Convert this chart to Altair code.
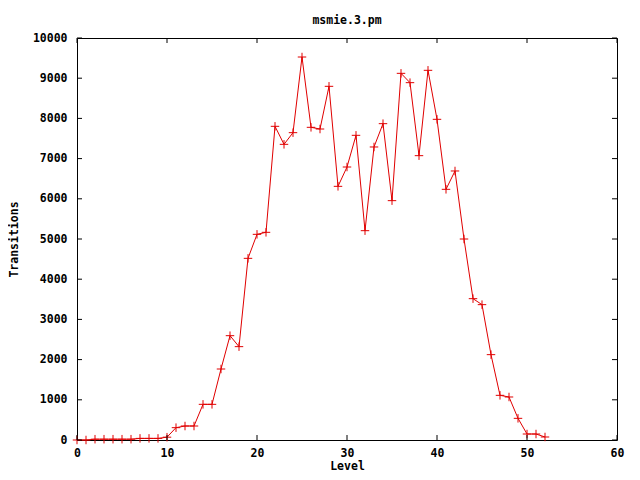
import altair as alt
import pandas as pd

levels = list(range(0, 53))
transitions = [0, 0, 20, 20, 20, 20, 20, 40, 40, 40, 70,
               307, 348, 348, 887, 887, 1766, 2595, 2322, 4519, 5116, 5166,
               7803, 7355, 7645, 9527, 7778, 7736, 8798, 6310, 6791, 7579,
               5207, 7289, 7869, 5954, 9121, 8889, 7073, 9196, 7977, 6236,
               6692, 5000, 3516, 3367, 2123, 1111, 1070, 539, 149, 149, 75]
x_ticks = [0, 10, 20, 30, 40, 50, 60]
y_ticks = [0, 1000, 2000, 3000, 4000, 5000, 6000, 7000, 8000, 9000, 10000]

df = pd.DataFrame({"Level": levels, "Transitions": transitions})
dfy = pd.DataFrame({"Transitions": y_ticks, "Lmin": 0, "Lmax": 60})
dfx = pd.DataFrame({"Level": x_ticks, "Tmin": 0, "Tmax": 10000})

FONT = "DejaVu Sans Mono"
FS = 11.5
RED = "#e00000"
TL = 5

xs = alt.Scale(domain=[0, 60], nice=False, zero=False)
ys = alt.Scale(domain=[0, 10000], nice=False)

xaxis = alt.Axis(values=x_ticks, format="d", ticks=False, domain=False, grid=False,
                 labelFlush=False, labelOverlap=False,
                 labelFont=FONT, labelFontSize=FS, labelFontWeight="bold",
                 labelColor="black", labelPadding=7,
                 title="Level", titleFont=FONT, titleFontSize=FS,
                 titleFontWeight="bold", titleColor="black", titlePadding=2)
yaxis = alt.Axis(values=y_ticks, format="d", ticks=False, domain=False, grid=False,
                 labelFlush=False, labelOverlap=False,
                 labelFont=FONT, labelFontSize=FS, labelFontWeight="bold",
                 labelColor="black", labelPadding=10,
                 title="Transitions", titleFont=FONT, titleFontSize=FS,
                 titleFontWeight="bold", titleColor="black",
                 titleX=-63, titleY=201, titleAngle=-90,
                 titleAlign="center", titleBaseline="middle")

line = alt.Chart(df).mark_line(color=RED, strokeWidth=1).encode(
    x=alt.X("Level:Q", scale=xs, axis=xaxis),
    y=alt.Y("Transitions:Q", scale=ys, axis=yaxis),
)
pts = alt.Chart(df).mark_point(
    shape="M-1,0L1,0M0,-1L0,1", size=72, filled=False, strokeWidth=1,
    color=RED, opacity=1
).encode(
    x=alt.X("Level:Q", scale=xs, axis=xaxis),
    y=alt.Y("Transitions:Q", scale=ys, axis=yaxis),
)

yl = alt.Chart(dfy).mark_rule(color="black", strokeWidth=1, x2Offset=TL).encode(
    x=alt.X("Lmin:Q", scale=xs, axis=xaxis), x2="Lmin:Q",
    y=alt.Y("Transitions:Q", scale=ys, axis=yaxis),
)
yr = alt.Chart(dfy).mark_rule(color="black", strokeWidth=1, x2Offset=-TL).encode(
    x=alt.X("Lmax:Q", scale=xs, axis=xaxis), x2="Lmax:Q",
    y=alt.Y("Transitions:Q", scale=ys, axis=yaxis),
)
xb = alt.Chart(dfx).mark_rule(color="black", strokeWidth=1, y2Offset=-TL).encode(
    y=alt.Y("Tmin:Q", scale=ys, axis=yaxis), y2="Tmin:Q",
    x=alt.X("Level:Q", scale=xs, axis=xaxis),
)
xt = alt.Chart(dfx).mark_rule(color="black", strokeWidth=1, y2Offset=TL).encode(
    y=alt.Y("Tmax:Q", scale=ys, axis=yaxis), y2="Tmax:Q",
    x=alt.X("Level:Q", scale=xs, axis=xaxis),
)

chart = alt.layer(line, pts, yl, yr, xb, xt).properties(
    width=540, height=402,
    background="white",
    title=alt.TitleParams("msmie.3.pm", font=FONT, fontSize=FS,
                          fontWeight="bold", color="black", offset=6,
                          anchor="middle"),
    autosize=alt.AutoSizeParams(type="none"),
    padding={"left": 69, "top": 30, "right": 15, "bottom": 32},
).configure_view(stroke="black", strokeWidth=1)

chart.save("out.html", embed_options={"renderer": "svg", "actions": False})
